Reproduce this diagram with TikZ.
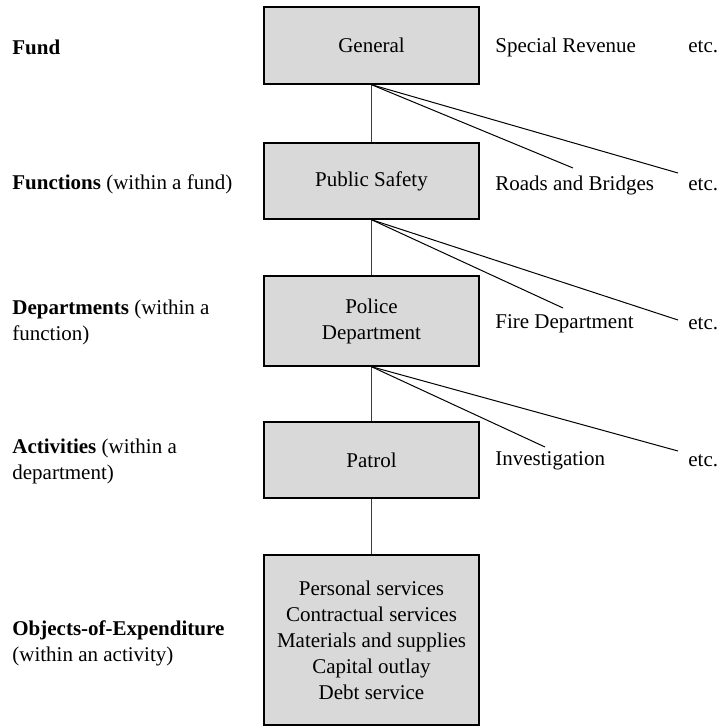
\documentclass[tikz,border=0pt]{standalone}
\usepackage{fontspec}
\setmainfont{Liberation Serif}
\usepackage{xcolor}
\usetikzlibrary{positioning, shadows}
\definecolor{boxgray}{RGB}{217,217,217}
\definecolor{stemgray}{RGB}{60,60,60}

\begin{document}
\begin{tikzpicture}[x=0.5pt, y=-0.5pt,
	font=\fontsize{10.5}{13}\selectfont,
	level/.style={draw, fill=boxgray, line width=0.7pt, minimum width=107.5pt,
		minimum height=38pt, align=center, inner sep=0pt,
		drop shadow={shadow xshift=0.6pt, shadow yshift=-0.6pt, fill=black, opacity=1}},
	tag/.style={anchor=west, inner sep=0pt, align=left},
	stem/.style={draw=stemgray, line width=0.6pt},
	branch/.style={draw, line width=0.5pt}]
		\useasboundingbox (0,0) rectangle (718,728);
		
		% Boxes of the chosen path
		\node[level, minimum height=38.5pt] (gen) at (371.5,45.5) {General};
		\node[level] (ps) at (371.5,181) {Public Safety};
		\node[level, minimum height=45pt] (pd) at (371.5,321) {Police\\Department};
		\node[level] (pat) at (371.5,460) {Patrol};
		\node[level, minimum height=85pt] (obj) at (371.5,640) {Personal services\\Contractual services\\Materials and supplies\\Capital outlay\\Debt service};
		
		% Level names
		\node[tag] (l-fund) at (12,47) {\textbf{Fund}};
		\node[tag] (l-func) at (12,184) {\textbf{Functions} (within a fund)};
		\node[tag] (l-dept) at (12,322) {\textbf{Departments} (within a\\function)};
		\node[tag] (l-act) at (12,461) {\textbf{Activities} (within a\\department)};
		\node[tag] (l-obj) at (12,643) {\textbf{Objects-of-Expenditure}\\(within an activity)};
		
		% Siblings
		\node[tag] (sr) at (495,47) {Special Revenue};
		\node[tag] (sr-etc) at (688,47) {etc.};
		\node[tag] (rb) at (495,185) {Roads and Bridges};
		\node[tag] (rb-etc) at (688,185) {etc.};
		\node[tag] (fd) at (495,324) {Fire Department};
		\node[tag] (fd-etc) at (688,324) {etc.};
		\node[tag] (inv) at (495,461) {Investigation};
		\node[tag] (inv-etc) at (688,461) {etc.};
		
		% Ends of the branches
		\coordinate (rb-tip) at (573,168);
		\coordinate (rb-etc-tip) at (678,173);
		\coordinate (fd-tip) at (563,308);
		\coordinate (fd-etc-tip) at (678,320);
		\coordinate (inv-tip) at (545,447);
		\coordinate (inv-etc-tip) at (678,451);
		
		% Stems
		\draw[stem] (gen) -- (ps);
		\draw[stem] (ps) -- (pd);
		\draw[stem] (pd) -- (pat);
		\draw[stem] (pat) -- (obj);
		
		% Branches
		\draw[branch] (gen.south) -- (rb-tip);
		\draw[branch] (gen.south) -- (rb-etc-tip);
		\draw[branch] (ps.south) -- (fd-tip);
		\draw[branch] (ps.south) -- (fd-etc-tip);
		\draw[branch] (pd.south) -- (inv-tip);
		\draw[branch] (pd.south) -- (inv-etc-tip);
\end{tikzpicture}
\end{document}
